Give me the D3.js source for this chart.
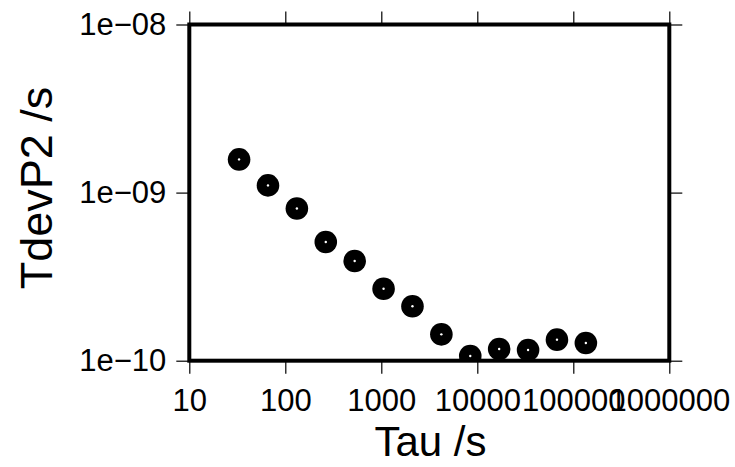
<!DOCTYPE html>
<html>
<head>
<meta charset="utf-8">
<script src="https://cdn.jsdelivr.net/npm/d3@7"></script>
<style>
  html, body { margin: 0; padding: 0; background: #fff; }
  svg { display: block; }
  .axis text { font-family: "Liberation Sans", Arial, Helvetica, sans-serif; fill: #000; }
</style>
</head>
<body>
<svg id="chart" width="735" height="467"></svg>
<script>
// Averaging time (s) and the TDEV of the P2 clock (s)
const tau = [33, 66, 132, 264, 528, 1056, 2112, 4224, 8448, 16896, 33792, 67584, 135168];
const tdev = [1.576e-9, 1.104e-9, 8.05e-10, 5.08e-10, 3.92e-10, 2.68e-10, 2.11e-10,
              1.435e-10, 1.066e-10, 1.174e-10, 1.158e-10, 1.334e-10, 1.274e-10];

const xTicks = [10, 100, 1000, 10000, 100000, 1000000];
const xTickLabels = ["10", "100", "1000", "10000", "100000", "1000000"];
const yTicks = [1e-10, 1e-9, 1e-8];
const yTickLabels = ["1e\u221210", "1e\u221209", "1e\u221208"];

const xTitle = "Tau /s";
const yTitle = "TdevP2 /s";

const svg = d3.select("#chart");
const plotLeft = 189.3, plotRight = 669.3, plotTop = 24.5, plotBottom = 360.7;

const x = d3.scaleLog().domain([10, 1e6]).range([plotLeft, plotRight]);
const y = d3.scaleLog().domain([1e-10, 1e-8]).range([plotBottom, plotTop]);

// clip markers to the plotting frame
svg.append("clipPath").attr("id", "plotclip")
  .append("rect")
  .attr("x", plotLeft).attr("y", plotTop)
  .attr("width", plotRight - plotLeft).attr("height", plotBottom - plotTop);

const pts = svg.append("g").attr("clip-path", "url(#plotclip)");
const data = tau.map((t, i) => ({ t, v: tdev[i] }));
pts.selectAll("circle.outer").data(data).enter().append("circle")
  .attr("class", "outer")
  .attr("cx", d => x(d.t)).attr("cy", d => y(d.v))
  .attr("r", 11.3).attr("fill", "#000");
pts.selectAll("circle.inner").data(data).enter().append("circle")
  .attr("class", "inner")
  .attr("cx", d => x(d.t)).attr("cy", d => y(d.v))
  .attr("r", 1.2).attr("fill", "#fff");

const tickLen = 13;
function styleAxis(g) {
  g.select(".domain").remove();
  g.selectAll(".tick line").attr("stroke", "#000").attr("stroke-width", 1.2);
}

svg.append("g").attr("class", "axis")
  .attr("transform", `translate(0,${plotBottom})`)
  .call(d3.axisBottom(x).tickValues(xTicks)
    .tickFormat((d, i) => xTickLabels[i]).tickSize(tickLen).tickPadding(15).tickSizeOuter(0))
  .call(styleAxis)
  .call(g => g.selectAll("text").attr("font-size", 31));

svg.append("g").attr("class", "axis")
  .attr("transform", `translate(0,${plotTop})`)
  .call(d3.axisTop(x).tickValues(xTicks).tickFormat("").tickSize(tickLen).tickSizeOuter(0))
  .call(styleAxis);

svg.append("g").attr("class", "axis")
  .attr("transform", `translate(${plotLeft},0)`)
  .call(d3.axisLeft(y).tickValues(yTicks)
    .tickFormat((d, i) => yTickLabels[i]).tickSize(tickLen).tickPadding(10).tickSizeOuter(0))
  .call(styleAxis)
  .call(g => g.selectAll("text").attr("font-size", 31));

svg.append("g").attr("class", "axis")
  .attr("transform", `translate(${plotRight},0)`)
  .call(d3.axisRight(y).tickValues(yTicks).tickFormat("").tickSize(tickLen).tickSizeOuter(0))
  .call(styleAxis);

// frame
svg.append("rect")
  .attr("x", plotLeft).attr("y", plotTop)
  .attr("width", plotRight - plotLeft).attr("height", plotBottom - plotTop)
  .attr("fill", "none").attr("stroke", "#000").attr("stroke-width", 4);

// axis titles
svg.append("text")
  .attr("x", 430.5).attr("y", 456)
  .attr("text-anchor", "middle")
  .attr("font-family", "Liberation Sans, Arial, sans-serif")
  .attr("font-size", 42).text(xTitle);

svg.append("text")
  .attr("transform", `translate(51.5,188) rotate(-90)`)
  .attr("text-anchor", "middle")
  .attr("font-family", "Liberation Sans, Arial, sans-serif")
  .attr("font-size", 45).text(yTitle);
</script>
</body>
</html>
